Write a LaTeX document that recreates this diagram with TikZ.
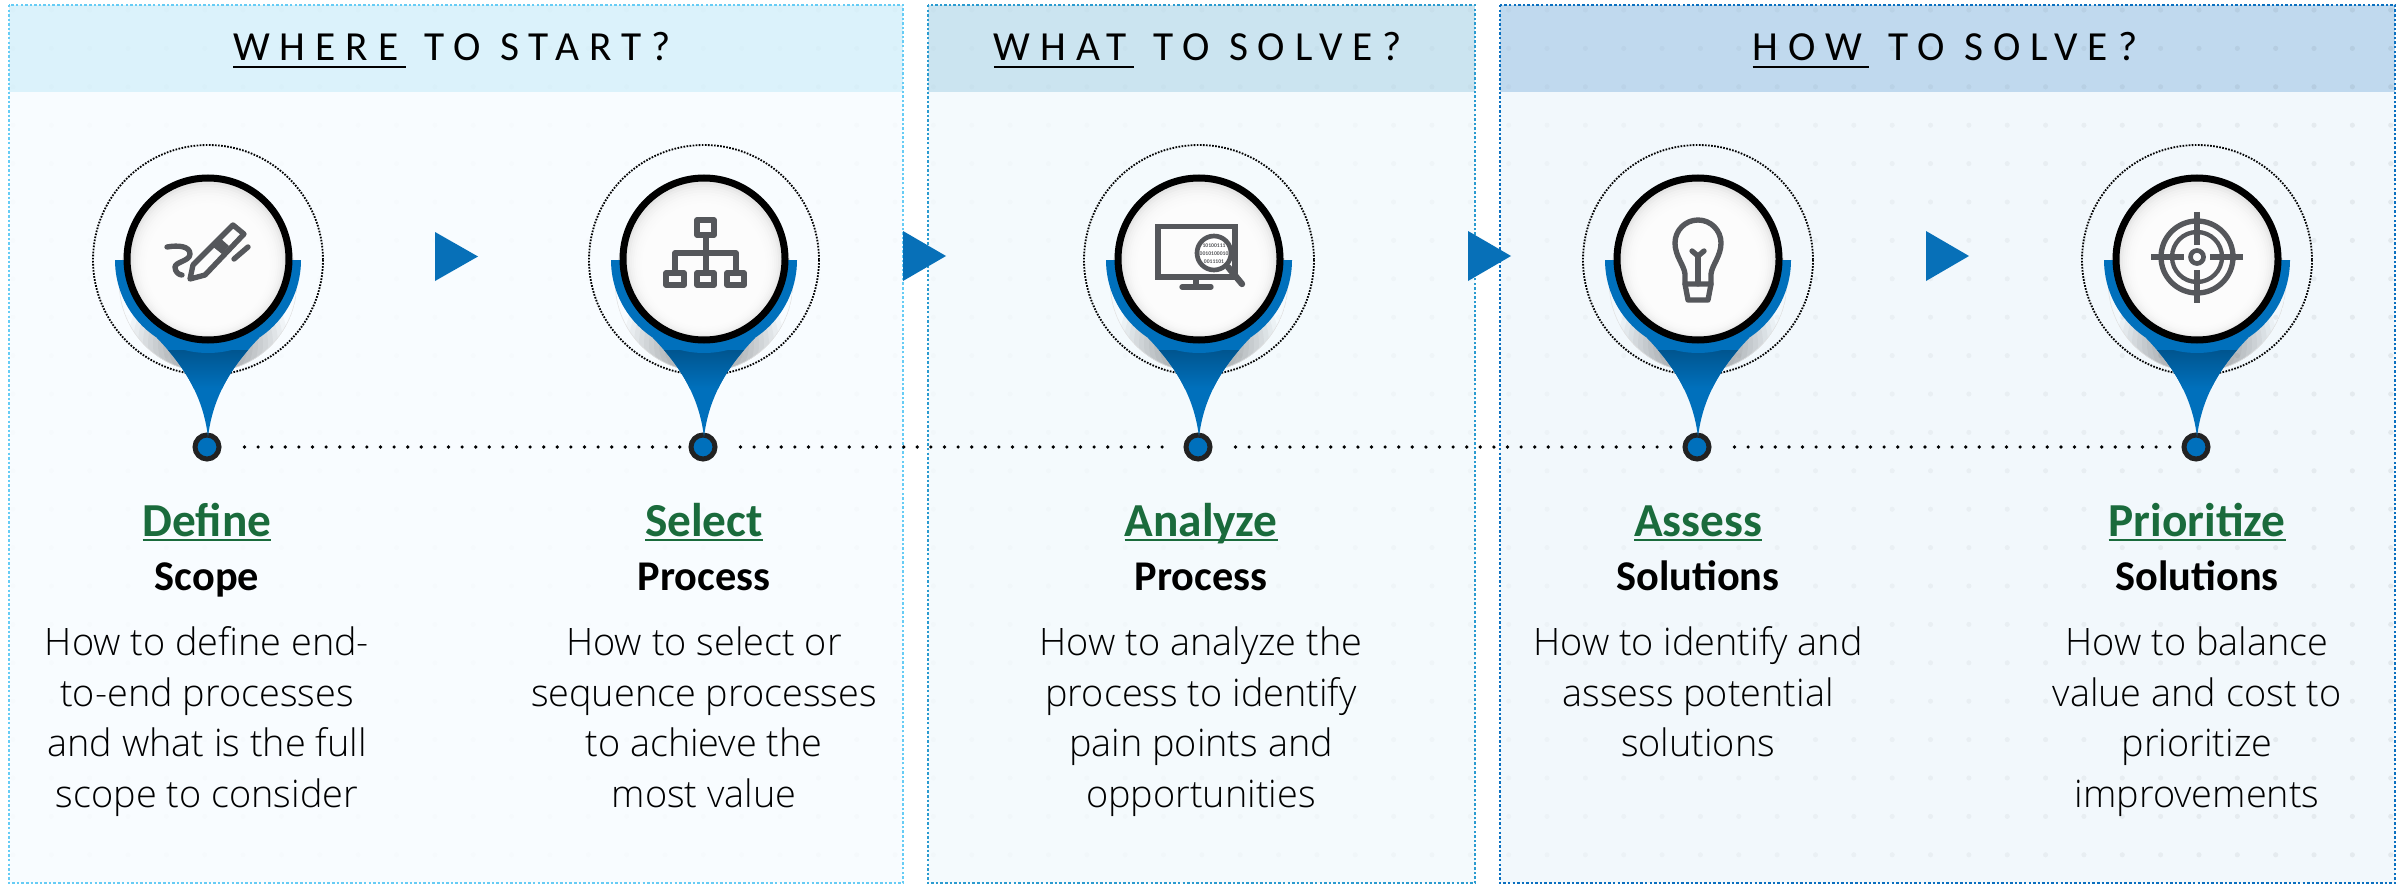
\documentclass[tikz,border=0pt]{standalone}
\usepackage{fontspec}
\setmainfont{Carlito}
\newfontfamily\bodyf{Open Sans Light}
\newfontfamily\headf[LetterSpace=24]{Carlito}
\definecolor{pinblue}{HTML}{0070BC}
\definecolor{pindark}{HTML}{00558F}
\definecolor{arrowblue}{HTML}{0770B8}
\definecolor{icongray}{HTML}{55575B}
\definecolor{ringdark}{HTML}{222222}
\definecolor{bgA}{HTML}{F8FCFF}\definecolor{hdA}{HTML}{DBF2FB}\definecolor{bdA}{HTML}{66CCF5}
\definecolor{bgB}{HTML}{F4FAFD}\definecolor{hdB}{HTML}{CBE4F0}\definecolor{bdB}{HTML}{2A9BD0}
\definecolor{bgC}{HTML}{F2F8FC}\definecolor{hdC}{HTML}{C0D9EE}\definecolor{bdC}{HTML}{0A70C0}
\definecolor{titlegreen}{HTML}{1A6B3C}
\newcommand\ulbox[3]{\setbox0\hbox{#1}\leavevmode\rlap{\raisebox{-#2}{\rule{\wd0}{#3}}}\box0\relax}
\tikzset{
  x=0.3pt,y=-0.3pt,
  border/.style={line width=0.75pt,dash pattern=on 0.75pt off 0.62pt},
  icon/.style={draw=icongray,line width=1.6pt,line cap=round,line join=round},
  headtext/.style={anchor=base,inner sep=0,font=\headf\fontsize{12.4}{14}\selectfont,text=black},
  titletext/.style={anchor=base,inner sep=0,font=\bfseries\fontsize{14.2}{16}\selectfont,text=titlegreen},
  subtext/.style={anchor=base,inner sep=0,font=\bfseries\fontsize{12.7}{15}\selectfont,text=black},
  bodytext/.style={anchor=north,inner sep=0,align=center,font=\bodyf\fontsize{11.35}{15.2}\selectfont,text=black},
  dotconn/.style={line width=1.1pt,line cap=round,dash pattern=on 0pt off 4.08pt,shorten <=6.9pt,shorten >=2.4pt},
}
\newcommand\pinshape[3]{%
\begin{scope}[shift={(#1,260)}]
  % shadow
  \begin{scope}
    \clip (0,23) circle (89);
    \foreach \r in {30,35,...,80} \fill[black,opacity=0.03] (0,84) circle (\r);
    \draw[black!12,line width=0.3pt] (0,23) circle (89);
  \end{scope}
  \draw[black,line width=0.55pt,dash pattern=on 0.5pt off 0.42pt] (0,0) circle (115);
  % dot at the tip
  \node[circle,draw=ringdark,fill=pinblue,line width=1.5pt,minimum size=7.2pt,inner sep=0] (dot#2) at (-1,187) {};
  % teardrop
  \fill[pinblue] (-51,78) .. controls (-25,105) and (-5,135) .. (0,177) .. controls (5,135) and (25,105) .. (51,78) -- cycle;
  \begin{scope}
    \clip (-51,78) .. controls (-25,105) and (-5,135) .. (0,177) .. controls (5,135) and (25,105) .. (51,78) -- cycle;
    \shade[top color=pindark,bottom color=pinblue] (-60,90) rectangle (60,128);
  \end{scope}
  % cup
  \fill[pinblue] (-93,0) .. controls (-93,51.4) and (-51.4,93) .. (0,93) .. controls (51.4,93) and (93,51.4) .. (93,0) -- cycle;
  % disc
  \fill[black!14] (0,0) circle (79);
  \foreach \r in {78,76,...,50} \fill[white,opacity=0.28] (0,{(78-\r)*0.3}) circle (\r);
  \draw[black,line width=2.1pt] (0,-1) circle (81);
  #3
\end{scope}}
\begin{document}
\begin{tikzpicture}
\useasboundingbox (0,0) rectangle (2405,885);
\fill[white] (0,0) rectangle (2405,885);
% panels
\fill[bgA] (9,5) rectangle (903,883);
\fill[hdA] (9,5) rectangle (903,92);
\fill[bgB] (928,5) rectangle (1475,883);
\fill[hdB] (928,5) rectangle (1475,92);
\fill[bgC] (1500,5) rectangle (2395,883);
\fill[hdC] (1500,5) rectangle (2395,92);
% faint dot texture
\begin{scope}
  \clip (9,5) rectangle (903,883) (928,5) rectangle (1475,883) (1500,5) rectangle (2395,883);
  \foreach \i in {0,...,62}{
    \pgfmathsetmacro\op{0.008+0.05*((13+38.35*\i)/2400)^3}
    \foreach \j in {0,...,22}
      \fill[black,opacity=\op] ({13+38.35*\i},{10+38.4*\j}) circle (2.6);
  }
\end{scope}
\draw[border,bdA] (9,5) rectangle (903,883);
\draw[border,bdB] (928,5) rectangle (1475,883);
\draw[border,bdC] (1500,5) rectangle (2395,883);
% headers
\node[headtext] (h1) at (452,61) {\ulbox{WHERE\kern2.2pt}{2.2pt}{0.7pt} TO START?};
\node[headtext] (h2) at (1198,61) {\ulbox{WHAT\kern2.2pt}{2.2pt}{0.7pt} TO SOLVE?};
\node[headtext] (h3) at (1945,61) {\ulbox{HOW\kern2.2pt}{2.2pt}{0.7pt} TO SOLVE?};
% pins
\pinshape{208}{1}{
  \draw[icon] (-41,-13) .. controls (-30,-15) and (-18,-14) .. (-18,-6) .. controls (-18,1) and (-33,2) .. (-33,7) .. controls (-33,12) and (-29,15) .. (-26,15);
  \draw[icon] (25,-35) -- (36,-26) -- (-3,15) -- (-18,19) -- (-15,5) -- cycle;
  \fill[icongray] (12,-22) -- (21,-14) -- (14,-6) -- (4,-14) -- cycle;
  \draw[icon] (26,-1) -- (40,-13);
}
\pinshape{704}{2}{
  \draw[icon] (-7,-40) rectangle (10,-25);
  \draw[icon] (-38,13) rectangle (-20,25);
  \draw[icon] (-7,13) rectangle (10,25);
  \draw[icon] (23,13) rectangle (40,25);
  \draw[icon] (2,-25) -- (2,13);
  \draw[icon] (-29,13) -- (-29,-7) -- (32,-7) -- (32,13);
}
\pinshape{1199}{3}{
  \draw[icon,line cap=butt,line join=miter] (-41,-33.5) rectangle (36,17);
  \draw[icon,line cap=butt] (-3,17) -- (-3,27);
  \draw[icon] (-17,27) -- (12,27);
  \fill[white] (15,-7) circle (18);
  \begin{scope}
    \clip (15,-7) circle (16);
    \node[inner sep=0,font=\bfseries\fontsize{1.7}{2.4}\selectfont,text=icongray,align=center] (digits) at (15,-6) {10100111\\0010100010\\0011101};
  \end{scope}
  \draw[icongray,line width=1.4pt] (15,-7) circle (17);
  \draw[icongray,line width=1.9pt,line cap=round] (29,7) -- (43,24);
}
\pinshape{1698}{4}{
  \draw[icon] (-13,24) -- (-13,14) .. controls (-14,5) and (-23,-4) .. (-23,-17) .. controls (-23,-29.7) and (-12.7,-40) .. (0,-40) .. controls (12.7,-40) and (23,-29.7) .. (23,-17) .. controls (23,-4) and (14,5) .. (13,14) -- (13,24) -- cycle;
  \draw[icon] (-13,24) -- (-10,40) -- (10,40) -- (13,24);
  \draw[icon] (-6,-9) -- (0,-4) -- (6,-9);
  \draw[icon] (0,-4) -- (0,24);
}
\pinshape{2197}{5}{
  \begin{scope}[shift={(0,-3)}]
    \draw[icongray,line width=1.6pt] (0,0) circle (36);
    \draw[icongray,line width=1.3pt] (0,0) circle (25);
    \draw[icongray,line width=1.4pt] (0,0) circle (6.5);
    \draw[icongray,line width=1.6pt] (-46,0) -- (-13,0) (13,0) -- (46,0) (0,-45) -- (0,-12) (0,13) -- (0,46);
  \end{scope}
}
% dotted connectors
\draw[dotconn] (dot1) -- (dot2);
\draw[dotconn] (dot2) -- (dot3);
\draw[dotconn] (dot3) -- (dot4);
\draw[dotconn] (dot4) -- (dot5);
% arrows
\fill[arrowblue] (435,232) -- (478,256.5) -- (435,281) -- cycle;
\fill[arrowblue] (903,231) -- (946,256) -- (903,281) -- cycle;
\fill[arrowblue] (1468,231) -- (1511,256) -- (1468,281) -- cycle;
\fill[arrowblue] (1926,231) -- (1969,256) -- (1926,281) -- cycle;
% titles
\node[titletext] (t1) at (207,536) {\ulbox{Define}{1.6pt}{0.8pt}};
\node[titletext] (t2) at (704,536) {\ulbox{Select}{1.6pt}{0.8pt}};
\node[titletext] (t3) at (1201,536) {\ulbox{Analyze}{1.6pt}{0.8pt}};
\node[titletext] (t4) at (1698,536) {\ulbox{Assess}{1.6pt}{0.8pt}};
\node[titletext] (t5) at (2197,536) {\ulbox{Prioritize}{1.6pt}{0.8pt}};
\node[subtext] (s1) at (207,590) {Scope};
\node[subtext] (s2) at (704,590) {Process};
\node[subtext] (s3) at (1201,590) {Process};
\node[subtext] (s4) at (1698,590) {Solutions};
\node[subtext] (s5) at (2197,590) {Solutions};
\node[bodytext] (b1) at (207,626) {How to define end-\\to-end processes\\and what is the full\\scope to consider};
\node[bodytext] (b2) at (704,626) {How to select or\\sequence processes\\to achieve the\\most value};
\node[bodytext] (b3) at (1201,626) {How to analyze the\\process to identify\\pain points and\\opportunities};
\node[bodytext] (b4) at (1698,626) {How to identify and\\assess potential\\solutions};
\node[bodytext] (b5) at (2197,626) {How to balance\\value and cost to\\prioritize\\improvements};
\end{tikzpicture}
\end{document}
